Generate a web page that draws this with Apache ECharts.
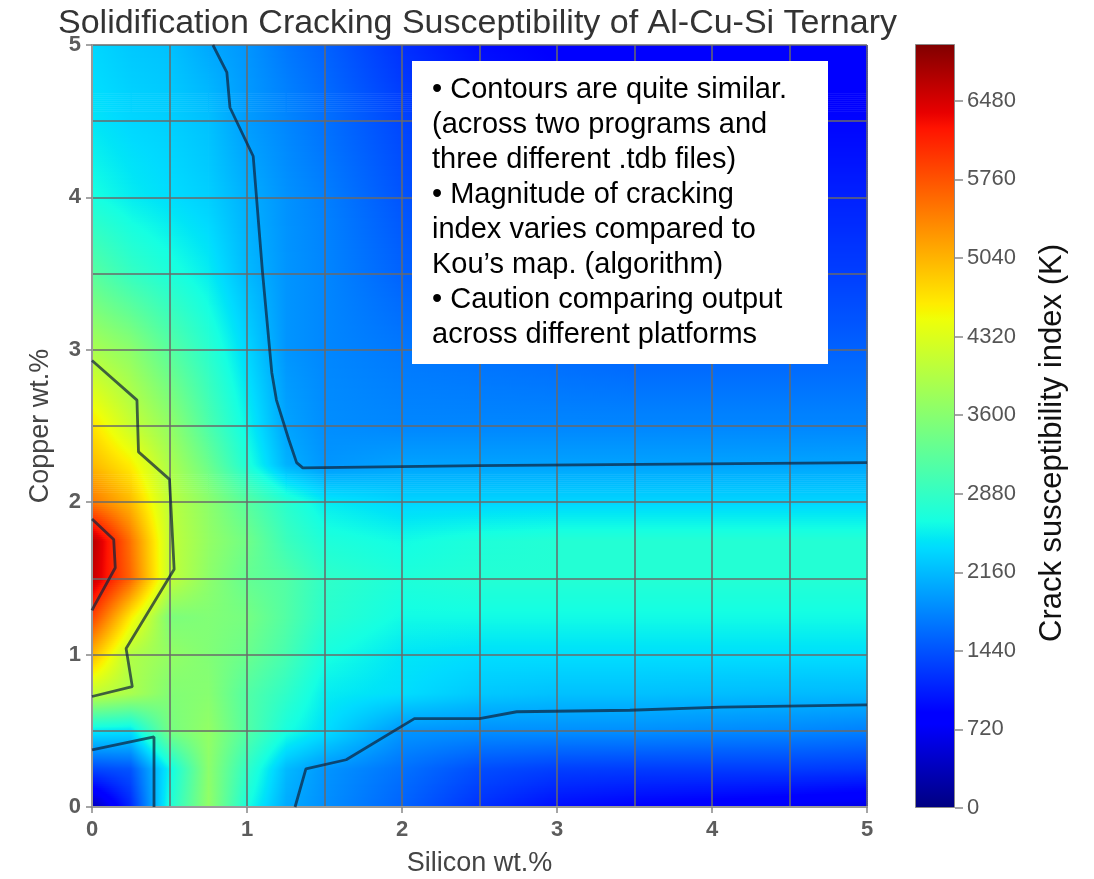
<!DOCTYPE html>
<html><head><meta charset="utf-8">
<script src="https://cdn.jsdelivr.net/npm/echarts@6/dist/echarts.min.js"></script>
<style>html,body{margin:0;padding:0;background:#fff}#chart{width:1094px;height:879px}</style>
</head><body><div id="chart"></div>
<script>
const chartTitle = 'Solidification Cracking Susceptibility of Al-Cu-Si Ternary';
const xAxisTitle = 'Silicon wt.%';
const yAxisTitle = 'Copper wt.%';
const colorbarTitle = 'Crack susceptibility index (K)';
const colorbarTicks = [0, 720, 1440, 2160, 2880, 3600, 4320, 5040, 5760, 6480];
const colorbarMax = 7000;

// grid nodes of the map (wt.%)
const siliconNodes = [0, 0.25, 0.5, 0.75, 1, 1.25, 1.5, 2, 2.5, 3, 3.5, 4, 4.5, 5];
const copperNodes = [0, 0.25, 0.5, 0.75, 1, 1.25, 1.5, 1.75, 2, 2.25, 2.5, 3, 3.5, 4, 4.5, 5];
// crack susceptibility index (K), one row per copper node
const csiRows = [
  [300, 1150, 2700, 3700, 2650, 2040, 1850, 1550, 1200, 950, 850, 780, 700, 600],
  [1350, 1450, 2550, 3650, 2850, 2150, 1900, 1650, 1400, 1300, 1280, 1280, 1280, 1250],
  [2450, 2400, 3450, 3700, 3150, 2650, 2400, 1900, 1850, 1850, 1850, 1820, 1800, 1750],
  [4100, 3900, 3550, 3600, 3150, 2850, 2500, 2400, 2250, 2200, 2200, 2180, 2160, 2150],
  [5000, 3950, 3700, 3550, 3350, 3050, 2650, 2450, 2400, 2400, 2400, 2400, 2400, 2400],
  [5900, 4600, 3500, 3550, 3450, 3150, 2800, 2600, 2600, 2600, 2600, 2600, 2600, 2600],
  [6600, 5600, 4100, 3650, 3300, 3150, 2850, 2700, 2750, 2750, 2750, 2750, 2750, 2750],
  [6700, 5500, 4100, 3700, 3400, 2950, 2700, 2600, 2700, 2750, 2750, 2750, 2750, 2750],
  [5500, 5000, 4050, 3650, 3200, 2800, 2500, 2350, 2350, 2350, 2350, 2350, 2350, 2350],
  [5000, 4600, 3900, 3350, 2700, 2100, 1900, 1990, 1990, 1990, 1990, 1995, 2000, 2010],
  [4700, 4150, 3700, 3100, 2550, 2000, 1850, 1800, 1800, 1800, 1800, 1800, 1800, 1800],
  [3900, 3650, 3200, 2800, 2350, 1900, 1800, 1700, 1650, 1600, 1550, 1550, 1550, 1550],
  [3200, 2900, 2700, 2500, 2150, 1900, 1800, 1550, 1400, 1350, 1300, 1300, 1300, 1300],
  [2650, 2500, 2400, 2300, 2080, 1880, 1750, 1450, 1250, 1130, 1100, 1100, 1100, 1100],
  [2450, 2350, 2300, 2200, 1950, 1800, 1650, 1350, 1100, 950, 900, 900, 900, 900],
  [2350, 2250, 2200, 2030, 1900, 1700, 1550, 1200, 950, 850, 800, 800, 800, 800]
];

// contour polylines [Si, Cu]
const contourUpper = [[0.78, 5], [0.87, 4.82], [0.89, 4.59], [1.04, 4.27], [1.10, 3.51], [1.16, 2.85], [1.19, 2.67], [1.27, 2.41], [1.32, 2.26], [1.36, 2.225], [2.5, 2.24], [5, 2.26]];
const contourLower = [[1.31, 0], [1.38, 0.25], [1.64, 0.31], [2.08, 0.58], [2.5, 0.58], [2.74, 0.625], [3.47, 0.635], [4.06, 0.655], [5, 0.67]];
const contourCorner = [[0, 0.375], [0.40, 0.46], [0.40, 0]];
const contourOuter = [[0, 2.93], [0.29, 2.67], [0.30, 2.33], [0.50, 2.15], [0.53, 1.56], [0.22, 1.04], [0.26, 0.79], [0, 0.725]];
const contourInner = [[0, 1.89], [0.14, 1.755], [0.15, 1.57], [0.013, 1.316], [0, 1.29]];

const noteLines = [
  '\u2022 Contours are quite similar.',
  '(across two programs and',
  'three different .tdb files)',
  '\u2022 Magnitude of cracking',
  'index varies compared to',
  'Kou\u2019s map. (algorithm)',
  '\u2022 Caution comparing output',
  'across different platforms'
];

const FONT = "'Liberation Sans', Arial, Helvetica, sans-serif";

// jet colormap
const jetR = [[0, 0], [0.35, 0], [0.66, 1], [0.89, 1], [1, 0.5]];
const jetG = [[0, 0], [0.125, 0], [0.375, 1], [0.64, 1], [0.91, 0], [1, 0]];
const jetB = [[0, 0.5], [0.11, 1], [0.34, 1], [0.65, 0], [1, 0]];
const jetKnots = [0, 0.11, 0.125, 0.34, 0.35, 0.375, 0.64, 0.65, 0.66, 0.89, 0.91, 1];
function seg(pts, t) {
  for (let k = 1; k < pts.length; k++) {
    if (t <= pts[k][0]) {
      const a = pts[k - 1], b = pts[k];
      return a[1] + (b[1] - a[1]) * (t - a[0]) / (b[0] - a[0]);
    }
  }
  return pts[pts.length - 1][1];
}
function jet(t) {
  t = Math.max(0, Math.min(1, t));
  return 'rgb(' + Math.round(255 * seg(jetR, t)) + ',' + Math.round(255 * seg(jetG, t)) + ',' + Math.round(255 * seg(jetB, t)) + ')';
}
function stripStops(vl, vr) {
  const us = [0, 1];
  jetKnots.forEach(k => {
    const kv = k * colorbarMax;
    if ((kv - vl) * (kv - vr) < 0) us.push((kv - vl) / (vr - vl));
  });
  us.sort((a, b) => a - b);
  return us.map(u => ({ offset: u, color: jet((vl + (vr - vl) * u) / colorbarMax) }));
}

const cells = [];
for (let j = 0; j < copperNodes.length - 1; j++) {
  for (let i = 0; i < siliconNodes.length - 1; i++) {
    cells.push([siliconNodes[i], copperNodes[j], i, j]);
  }
}

const chart = echarts.init(document.getElementById('chart'), null, { renderer: 'canvas' });

const gridLine = { show: true, lineStyle: { color: '#6a6a6a', width: 1.5 } };
const contourStyle = { color: 'rgba(15,35,60,0.72)', width: 2.8 };
function contourSeries(data) {
  return { type: 'line', xAxisIndex: 0, yAxisIndex: 0, data: data, symbol: 'none', showSymbol: false,
    lineStyle: contourStyle, z: 10, silent: true, animation: false };
}

const barStops = jetKnots.map(k => ({ offset: k, color: jet(k) }));

chart.setOption({
  animation: false,
  title: {
    text: chartTitle, left: 53, top: 2,
    textStyle: { fontSize: 34, fontWeight: 'normal', color: '#333', fontFamily: FONT }
  },
  grid: [
    { left: 92, top: 45, width: 775, height: 762, outerBoundsMode: 'none' },
    { left: 915, top: 44, width: 40, height: 764, outerBoundsMode: 'none' }
  ],
  xAxis: [
    { type: 'value', gridIndex: 0, min: 0, max: 5, interval: 1, z: 3,
      name: xAxisTitle, nameLocation: 'middle', nameGap: 43,
      nameTextStyle: { fontSize: 27, color: '#444', fontFamily: FONT },
      axisLine: { show: true, lineStyle: { color: '#9a9a9a', width: 2 } },
      axisTick: { show: true, length: 6, lineStyle: { color: '#888', width: 1.5 } },
      axisLabel: { fontSize: 22, fontWeight: 'bold', color: '#5c5c5c', margin: 12, fontFamily: FONT },
      splitLine: gridLine,
      minorTick: { show: false, splitNumber: 2 },
      minorSplitLine: gridLine },
    { type: 'value', gridIndex: 0, min: 0, max: 5, position: 'top', z: 3,
      axisLine: { show: true, lineStyle: { color: '#9a9a9a', width: 2 } },
      axisTick: { show: false }, axisLabel: { show: false }, splitLine: { show: false } },
    { type: 'category', gridIndex: 1, data: ['K'], show: false }
  ],
  yAxis: [
    { type: 'value', gridIndex: 0, min: 0, max: 5, interval: 1, z: 3,
      name: yAxisTitle, nameLocation: 'middle', nameGap: 38, nameRotate: 90,
      nameTextStyle: { fontSize: 27, color: '#444', fontFamily: FONT },
      axisLine: { show: true, lineStyle: { color: '#9a9a9a', width: 2 } },
      axisTick: { show: true, length: 6, lineStyle: { color: '#888', width: 1.5 } },
      axisLabel: { fontSize: 22, fontWeight: 'bold', color: '#5c5c5c', margin: 11, fontFamily: FONT },
      splitLine: gridLine,
      minorTick: { show: false, splitNumber: 2 },
      minorSplitLine: gridLine },
    { type: 'value', gridIndex: 0, min: 0, max: 5, position: 'right', z: 3,
      axisLine: { show: true, lineStyle: { color: '#9a9a9a', width: 2 } },
      axisTick: { show: false }, axisLabel: { show: false }, splitLine: { show: false } },
    { type: 'value', gridIndex: 1, min: 0, max: colorbarMax, position: 'right',
      name: colorbarTitle, nameLocation: 'middle', nameGap: 82, nameRotate: 90,
      nameTextStyle: { fontSize: 31, color: '#111', fontFamily: FONT, padding: [0, 34, 0, 0] },
      axisLine: { show: false },
      axisTick: { show: true, length: 8, customValues: colorbarTicks, lineStyle: { color: '#888', width: 1.5 } },
      axisLabel: { show: true, customValues: colorbarTicks, fontSize: 22, color: '#555', margin: 12, fontFamily: FONT,
        formatter: v => String(v) },
      splitLine: { show: false } }
  ],
  series: [
    {
      type: 'custom', xAxisIndex: 0, yAxisIndex: 0, data: cells, silent: true, clip: false, z: 1,
      encode: { x: 0, y: 1 },
      renderItem: function (params, api) {
        const i = api.value(2), j = api.value(3);
        const pA = api.coord([siliconNodes[i], copperNodes[j]]);
        const pB = api.coord([siliconNodes[i + 1], copperNodes[j + 1]]);
        const left = pA[0], bottom = pA[1];
        const w = pB[0] - pA[0], h = pA[1] - pB[1];
        const ny = Math.max(1, Math.round(h / 2));
        const v00 = csiRows[j][i], v10 = csiRows[j][i + 1], v01 = csiRows[j + 1][i], v11 = csiRows[j + 1][i + 1];
        const children = [];
        for (let b = 0; b < ny; b++) {
          const t = (b + 0.5) / ny;
          const vl = v00 + (v01 - v00) * t, vr = v10 + (v11 - v10) * t;
          children.push({
            type: 'rect',
            shape: { x: left, y: bottom - h * (b + 1) / ny, width: w + 0.7, height: h / ny + 0.7 },
            style: { fill: { type: 'linear', x: 0, y: 0, x2: 1, y2: 0, colorStops: stripStops(vl, vr) } }
          });
        }
        return { type: 'group', children: children };
      }
    },
    contourSeries(contourUpper),
    contourSeries(contourLower),
    contourSeries(contourCorner),
    contourSeries(contourOuter),
    contourSeries(contourInner),
    {
      type: 'bar', xAxisIndex: 2, yAxisIndex: 2, data: [colorbarMax], barWidth: '100%', silent: true,
      itemStyle: { color: { type: 'linear', x: 0, y: 1, x2: 0, y2: 0, colorStops: barStops }, borderColor: '#8a8a8a', borderWidth: 1 }
    }
  ],
  graphic: [
    { type: 'rect', left: 412, top: 61, z: 100, shape: { width: 416, height: 303 }, style: { fill: '#ffffff' } },
    { type: 'text', left: 432, top: 72, z: 101,
      style: { text: noteLines.join('\n'), font: '29px ' + FONT, lineHeight: 35, fill: '#000' } }
  ]
});
</script></body></html>
